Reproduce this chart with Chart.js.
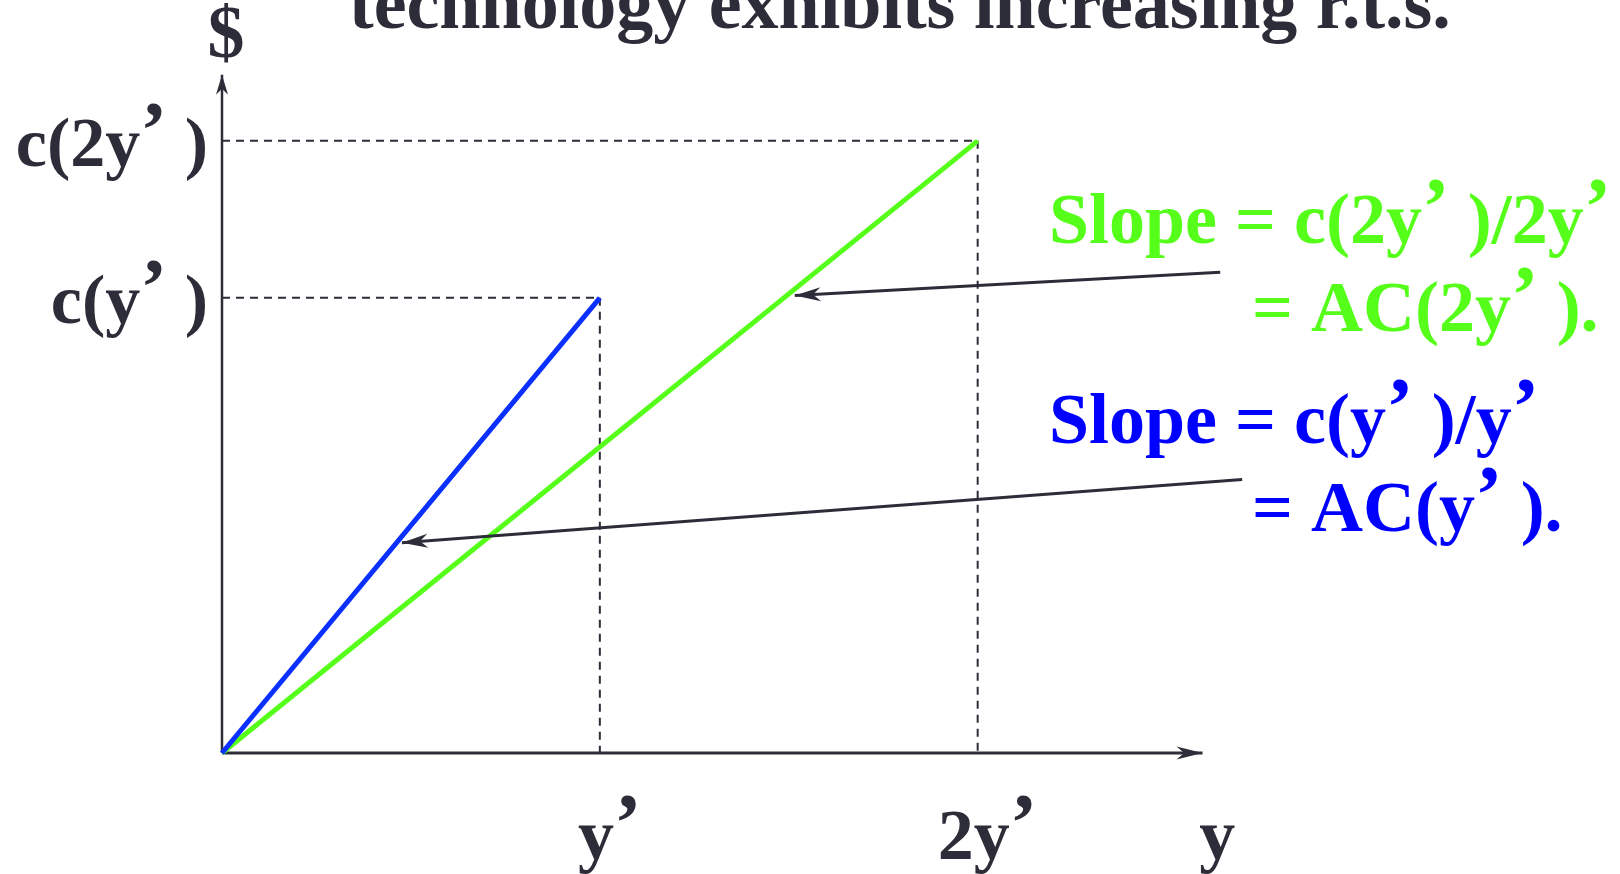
<!DOCTYPE html>
<html>
<head>
<meta charset="utf-8">
<script src="https://cdn.jsdelivr.net/npm/chart.js@4.4.1/dist/chart.umd.min.js"></script>
<style>
html,body{margin:0;padding:0;background:#fff;}
#wrap{width:1620px;height:874px;position:relative;}
canvas{display:block;}
</style>
</head>
<body>
<div id="wrap"><canvas id="c" width="1620" height="874"></canvas></div>
<script>
// ---- data ----
const titleText = "technology exhibits increasing r.t.s.";
const yAxisTitle = "$";
const xAxisTitle = "y";
const outputLevels = [1, 2];                 // y', 2y'
const outputLabels = ["y\u2019", "2y\u2019"];
const costLevels = [1, 1.345];               // c(y'), c(2y')
const costLabels = ["c(y\u2019 )", "c(2y\u2019 )"];
const blueLine = [{x:0, y:0}, {x:1, y:1}];
const greenLine = [{x:0, y:0}, {x:2, y:1.345}];
const xAxisEnd = 2.595;
const yAxisEnd = 1.49;
const greenArrow = [{x:2.642, y:1.056}, {x:1.516, y:1.005}];
const blueArrow = [{x:2.70, y:0.601}, {x:0.476, y:0.462}];
const greenNote = ["Slope = c(2y\u2019 )/2y\u2019", "= AC(2y\u2019 )."];
const blueNote = ["Slope = c(y\u2019 )/y\u2019", "= AC(y\u2019 )."];

const DARK = "#2d2d3a";
const GREEN = "#55ff1a";
const BLUE_LINE = "#0a30ff";
const BLUE_TEXT = "#0000ff";
const FONT = "'Liberation Serif', 'Times New Roman', serif";

function seg(a, b){ return [{x:a[0], y:a[1]}, {x:b[0], y:b[1]}]; }

const datasets = [];
// dashed guides
outputLevels.forEach((q, i) => {
  const c = costLevels[i];
  datasets.push({data: seg([0,c],[q,c]), borderColor: DARK, borderWidth: 2, borderDash:[8,6], order: 5});
  datasets.push({data: seg([q,c],[q,0]), borderColor: DARK, borderWidth: 2, borderDash:[8,6], order: 5});
});
// axes
datasets.push({data: seg([0,0],[xAxisEnd,0]), borderColor: DARK, borderWidth: 3, order: 4});
datasets.push({data: seg([0,0],[0,yAxisEnd]), borderColor: DARK, borderWidth: 2.5, order: 4});
// cost lines
datasets.push({data: greenLine, borderColor: GREEN, borderWidth: 5, order: 3});
datasets.push({data: blueLine, borderColor: BLUE_LINE, borderWidth: 5, order: 2});
// annotation arrows
datasets.push({data: greenArrow, borderColor: DARK, borderWidth: 3, order: 1});
datasets.push({data: blueArrow, borderColor: DARK, borderWidth: 3, order: 1});
datasets.forEach(d => { d.showLine = true; d.pointRadius = 0; d.pointHoverRadius = 0; d.clip = false; d.fill = false; d.tension = 0; });

function arrowHead(ctx, tip, from, len, half, color){
  const dx = tip.x - from.x, dy = tip.y - from.y;
  const L = Math.hypot(dx, dy);
  const ux = dx / L, uy = dy / L, nx = -uy, ny = ux;
  const bx = tip.x - ux * len, by = tip.y - uy * len;
  const mx = tip.x - ux * len * 0.7, my = tip.y - uy * len * 0.7;
  ctx.beginPath();
  ctx.moveTo(tip.x, tip.y);
  ctx.lineTo(bx + nx * half, by + ny * half);
  ctx.lineTo(mx, my);
  ctx.lineTo(bx - nx * half, by - ny * half);
  ctx.closePath();
  ctx.fillStyle = color;
  ctx.fill();
}

// draws text where the prime mark is larger and raised, as in the reference
function richText(ctx, text, x, y, size, align){
  const f = "bold " + size + "px " + FONT;
  const fp = "bold " + Math.round(size * 1.15) + "px " + FONT;
  const parts = [];
  let total = 0;
  for (const ch of text){
    const isPrime = ch === "\u2019";
    ctx.font = isPrime ? fp : f;
    const w = ctx.measureText(ch).width;
    parts.push({ch, isPrime, w});
    total += w;
  }
  let cx = align === 'right' ? x - total : align === 'center' ? x - total / 2 : x;
  ctx.textAlign = 'left';
  ctx.textBaseline = 'alphabetic';
  for (const p of parts){
    ctx.font = p.isPrime ? fp : f;
    ctx.fillText(p.ch, cx, p.isPrime ? y - size * 0.12 : y);
    cx += p.w;
  }
}

const overlay = {
  id: 'overlay',
  afterDatasetsDraw(chart){
    const ctx = chart.ctx, xs = chart.scales.x, ys = chart.scales.y;
    const P = p => ({x: xs.getPixelForValue(p.x), y: ys.getPixelForValue(p.y)});
    ctx.save();
    // axis arrowheads
    arrowHead(ctx, P({x:xAxisEnd, y:0}), P({x:0, y:0}), 26, 6.5, DARK);
    arrowHead(ctx, P({x:0, y:yAxisEnd}), P({x:0, y:0}), 20, 6, DARK);
    // annotation arrowheads
    arrowHead(ctx, P(greenArrow[1]), P(greenArrow[0]), 26, 7, DARK);
    arrowHead(ctx, P(blueArrow[1]), P(blueArrow[0]), 26, 7, DARK);

    // title (partly above the canvas, as in the reference)
    ctx.fillStyle = DARK;
    ctx.textBaseline = 'alphabetic';
    ctx.textAlign = 'left';
    ctx.font = "bold 74px " + FONT;
    ctx.fillText(titleText, 349, 28);

    // $ label
    ctx.textAlign = 'center';
    ctx.font = "bold 74px " + FONT;
    ctx.fillText(yAxisTitle, xs.getPixelForValue(0) + 4, 57);

    // cost labels
    costLabels.forEach((t, i) => {
      richText(ctx, t, xs.getPixelForValue(0) - 14, ys.getPixelForValue(costLevels[i]) + 25, 70, 'right');
    });

    // output labels
    const base = ys.getPixelForValue(0) + 106;
    outputLabels.forEach((t, i) => {
      richText(ctx, t, xs.getPixelForValue(outputLevels[i]) + 10, base, 72, 'center');
    });
    ctx.font = "bold 72px " + FONT;
    ctx.textAlign = 'center';
    ctx.fillText(xAxisTitle, xs.getPixelForValue(2.634), base);

    // slope notes
    ctx.fillStyle = GREEN;
    richText(ctx, greenNote[0], 1049, 243, 72, 'left');
    richText(ctx, greenNote[1], 1252, 331, 72, 'left');
    ctx.fillStyle = BLUE_TEXT;
    richText(ctx, blueNote[0], 1049, 443, 72, 'left');
    richText(ctx, blueNote[1], 1252, 531, 72, 'left');
    ctx.restore();
  }
};

new Chart(document.getElementById('c'), {
  type: 'scatter',
  data: { datasets },
  options: {
    responsive: false,
    animation: false,
    devicePixelRatio: 1,
    layout: { padding: { left: 222, right: 0, top: 2, bottom: 121 } },
    plugins: { legend: { display: false }, tooltip: { enabled: false }, title: { display: false } },
    scales: {
      x: { type: 'linear', min: 0, max: 3.7, display: false },
      y: { type: 'linear', min: 0, max: 1.65, display: false }
    },
    elements: { line: { borderCapStyle: 'butt' } }
  },
  plugins: [overlay]
});
</script>
</body>
</html>
